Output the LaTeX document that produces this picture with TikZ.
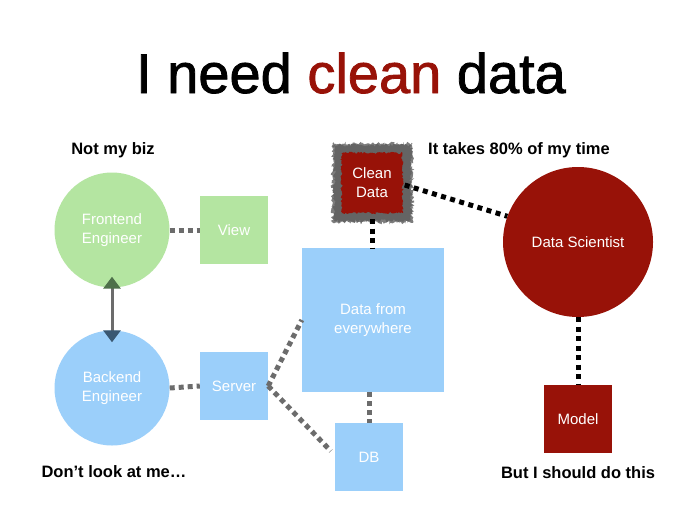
\documentclass[tikz,border=0pt]{standalone}
\usepackage{fontspec}
\setmainfont{Liberation Sans}
\newfontfamily\titlefont[FakeBold=1.4]{Liberation Sans}
\usetikzlibrary{arrows.meta,decorations.pathmorphing,calc}
\definecolor{fgreen}{RGB}{180,229,161}
\definecolor{bblue}{RGB}{155,207,250}
\definecolor{dred}{RGB}{152,18,8}
\definecolor{dotgray}{RGB}{108,108,108}
\definecolor{cdgray}{RGB}{100,100,100}
\definecolor{cdgray2}{RGB}{125,125,125}
\definecolor{headgreen}{RGB}{78,112,74}
\definecolor{headblue}{RGB}{58,88,114}
\begin{document}
\begin{tikzpicture}[x=1pt,y=-1pt,
  nodetext/.style={text=white, font=\fontsize{15}{19}\selectfont, align=center},
  circ/.style={circle, minimum size=#1, inner sep=0pt, nodetext},
  sq/.style={rectangle, minimum width=68, minimum height=68, inner sep=0pt, nodetext},
  dotg/.style={dotgray, line width=5pt, dash pattern=on 5pt off 4pt},
  dotk/.style={black, line width=5pt, dash pattern=on 5pt off 4.5pt},
  lbl/.style={font=\bfseries\fontsize{16.5}{20}\selectfont, anchor=base},
  rough/.style={decorate, line join=round, decoration={random steps, segment length=1.2pt, amplitude=#1}},
  rough/.default=1.5pt
]
\pgfmathsetseed{7}
\path[use as bounding box, fill=white] (0,0) rectangle (700,525);

% title
\node[anchor=base, font=\titlefont\fontsize{56}{60}\selectfont, inner sep=0pt] (title) at (351,93) {I need \textcolor{dred}{clean} data};

% labels
\node[lbl] (l1) at (113,154) {Not my biz};
\node[lbl] (l2) at (519,154) {It takes 80\% of my time};
\node[lbl] (l3) at (114,477) {Don’t look at me…};
\node[lbl] (l4) at (578,478) {But I should do this};

% rough grey border of the clean data box
\fill[rough=1.8pt, cdgray2] (332.5,143.5) rectangle (412.5,222.5);
\fill[rough=1.8pt, cdgray] (334,145) rectangle (411,221);
\fill[rough=1.2pt, dred] (341.5,153) rectangle (402.5,213);

% nodes
\node[circ=115, fill=fgreen] (fe) at (112,230) {Frontend\\Engineer};
\node[circ=115, fill=bblue] (be) at (112,388) {Backend\\Engineer};
\node[sq, fill=fgreen] (view) at (234,230) {View};
\node[sq, fill=bblue] (server) at (234,386) {Server};
\node[rectangle, minimum width=142, minimum height=144, inner sep=0pt, fill=bblue, nodetext] (dfe) at (373,320) {Data from\\everywhere};
\node[sq, fill=bblue] (db) at (369,457) {DB};
\node[circ=150, fill=dred] (ds) at (578,242) {Data Scientist};
\node[sq, fill=dred] (model) at (578,419) {Model};
\node[rectangle, minimum width=61, minimum height=60, inner sep=0pt, nodetext] (cd) at (372,183) {Clean\\Data};

% connectors
\draw[dotg] (fe.east) -- (view.west);
\draw[dotg] (be.east) -- (server.west);
\draw[dotg] (server.east) -- (dfe.west);
\draw[dotg] (server.east) -- ($(db.west)+(-4,-6)$);
\draw[dotg] (dfe.south -| db.north) -- (db.north);
\draw[dotk] ($(cd.south)+(0,6)$) -- (dfe.north -| cd.south);
\draw[dotk] ($(cd.east)+(2,2)$) -- (ds.160);
\draw[dotk] (ds.south) -- (model.north);

\draw[dotgray, line width=3pt,
  {Triangle[width=17pt,length=12pt,color=headgreen]}-{Triangle[width=17pt,length=12pt,color=headblue]}]
  ($(fe.south)+(0,-11)$) -- ($(be.north)+(0,12)$);
\end{tikzpicture}
\end{document}
